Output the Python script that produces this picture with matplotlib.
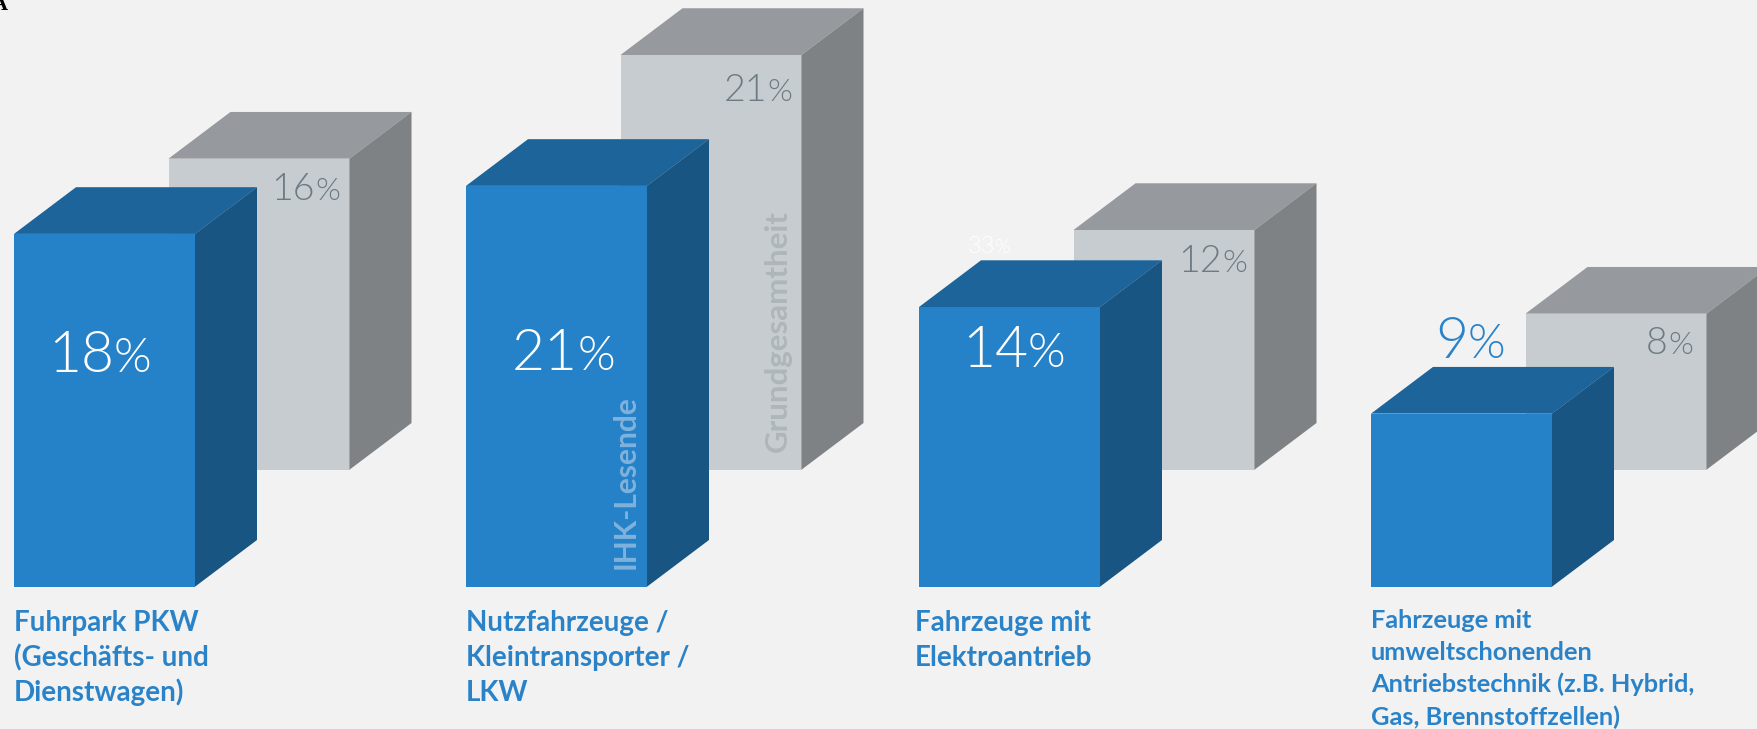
import matplotlib
matplotlib.use('Agg')
import matplotlib.pyplot as plt
from matplotlib import font_manager as fm
from matplotlib.patches import Polygon

W, H = 1757, 729
PX_PER_UNIT = 19.6  # pixels per percentage point
BASE_PX = 586.7     # blue baseline, from the top of the image

# data
categories = ['Fuhrpark PKW\n(Geschäfts- und\nDienstwagen)',
              'Nutzfahrzeuge /\nKleintransporter /\nLKW',
              'Fahrzeuge mit\nElektroantrieb',
              'Fahrzeuge mit\numweltschonenden\nAntriebstechnik (z.B. Hybrid,\nGas, Brennstoffzellen)']
ihk_labels = ['18', '21', '14', '9']
grund_labels = ['16', '21', '12', '8']
# drawn heights differ slightly from the printed numbers
ihk_heights = [18.0, 20.45, 14.27, 8.83]
grund_heights = [15.87, 21.16, 12.23, 7.96]

group_x = [14, 466, 919, 1371]
bar_w = 181
depth_x = 62
depth_y = 46.7 / PX_PER_UNIT
grund_dx = 154.5
grund_dy = 117 / PX_PER_UNIT

BG = '#f2f2f2'
BLUE = ('#2682c8', '#1c6499', '#195582')
GREY = ('#c7ccd0', '#96999d', '#7e8284')
LABEL = '#2a83c8'
NUM_GREY = '#6d7b84'
TXT_FONT = 'Lato'


def light_font():
    # weight='light' resolves to Lato Hairline, so pick the file directly
    for f in fm.fontManager.ttflist:
        if f.fname.endswith('Lato-Light.ttf'):
            return f.fname
    return None


def px(x, y):
    return x / W, 1 - y / H


def box(ax, x, bottom, height, colors, z):
    top = bottom + height
    ax.bar(x, height, bar_w, bottom=bottom, align='edge', color=colors[0], zorder=z)
    r = x + bar_w
    ax.add_patch(Polygon([(x, top), (r, top), (r + depth_x, top + depth_y), (x + depth_x, top + depth_y)],
                         closed=True, fc=colors[1], ec='none', zorder=z))
    ax.add_patch(Polygon([(r, bottom), (r + depth_x, bottom + depth_y), (r + depth_x, top + depth_y), (r, top)],
                         closed=True, fc=colors[2], ec='none', zorder=z))


def pct(fig, digits, x_split, base, size, color):
    # digits end where the percent sign starts
    path = light_font()
    if path:
        big = fm.FontProperties(fname=path, size=size)
        small = fm.FontProperties(fname=path, size=size * 0.85)
    else:
        big = fm.FontProperties(family='Lato', size=size)
        small = fm.FontProperties(family='Lato', size=size * 0.85)
    fig.text(*px(x_split, base), digits, ha='right', va='baseline', fontproperties=big, color=color, zorder=10)
    fig.text(*px(x_split, base), '%', ha='left', va='baseline', fontproperties=small, color=color, zorder=10)


def main():
    fig = plt.figure(figsize=(W / 100, H / 100), dpi=100, facecolor=BG)
    ax = fig.add_axes([0, 0, 1, 1], facecolor=BG)
    ax.set_xlim(0, W)
    ax.set_ylim(-(H - BASE_PX) / PX_PER_UNIT, BASE_PX / PX_PER_UNIT)
    ax.axis('off')

    for i, x in enumerate(group_x):
        box(ax, x + grund_dx, grund_dy, grund_heights[i], GREY, 2 + i * 2)
        box(ax, x, 0, ihk_heights[i], BLUE, 3 + i * 2)

    # big blue numbers
    pct(fig, ihk_labels[0], 114, 372, 41, 'white')
    pct(fig, ihk_labels[1], 578, 370, 41, 'white')
    pct(fig, ihk_labels[2], 1028, 367, 41, 'white')
    pct(fig, ihk_labels[3], 1468, 358, 41, LABEL)

    # grey numbers
    pct(fig, grund_labels[0], 315, 200, 27, NUM_GREY)
    pct(fig, grund_labels[1], 767.5, 101, 27, NUM_GREY)
    pct(fig, grund_labels[2], 1222, 271.7, 27, NUM_GREY)
    pct(fig, grund_labels[3], 1668, 354, 27, NUM_GREY)

    # stray label hidden behind the third bar in the original
    pct(fig, '33', 995, 253, 17, 'white')

    fig.text(*px(635, 569), 'IHK-Lesende', rotation=90, ha='left', va='baseline', rotation_mode='anchor',
             fontsize=21.5, color='#7fb2dc', family=TXT_FONT, weight='bold', zorder=10)
    fig.text(*px(787, 452), 'Grundgesamtheit', rotation=90, ha='left', va='baseline', rotation_mode='anchor',
             fontsize=22.5, color='#aeb6ba', family=TXT_FONT, weight='bold', zorder=10)

    # category labels
    for i in range(3):
        for j, line in enumerate(categories[i].split('\n')):
            fig.text(*px(group_x[i] if i < 2 else 915, 631 + j * 35), line, ha='left', va='baseline',
                     fontsize=20, color=LABEL, family=TXT_FONT, weight='bold')
    for j, line in enumerate(categories[3].split('\n')):
        fig.text(*px(group_x[3], 628 + j * 32.2), line, ha='left', va='baseline',
                 fontsize=18.3, color=LABEL, family=TXT_FONT, weight='bold')

    # bit of a cropped letter in the corner
    fig.text(*px(-8, 10), 'A', ha='left', va='baseline', fontsize=16, color='black',
             family='Liberation Serif', weight='bold')

    fig.savefig('out.png', dpi=100, facecolor=BG)


if __name__ == '__main__':
    main()
